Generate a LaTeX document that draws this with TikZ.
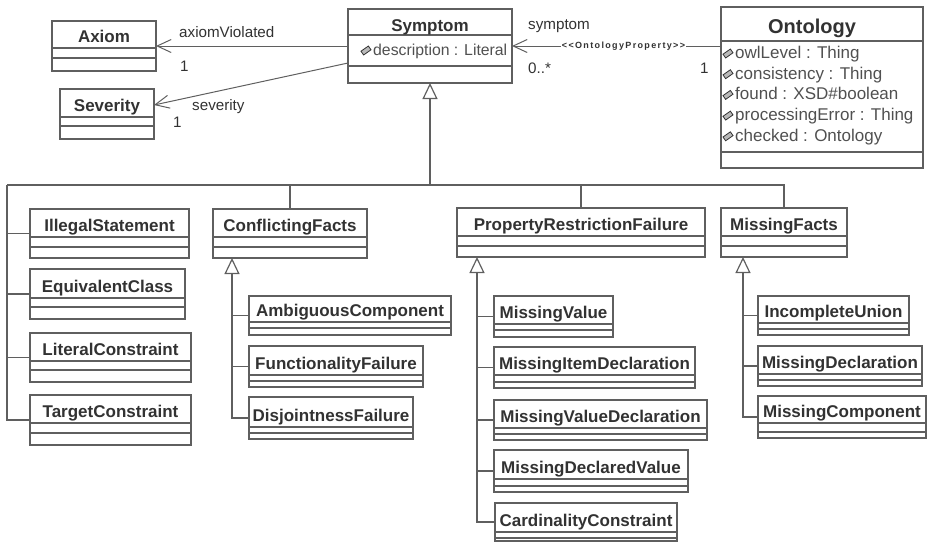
\documentclass[tikz,border=0pt]{standalone}
\usepackage{fontspec}
\setmainfont{Liberation Sans}
\newfontfamily\stf{Liberation Sans}[LetterSpace=15]
\usetikzlibrary{arrows.meta}
\definecolor{ln}{RGB}{95,95,95}
\definecolor{tx}{RGB}{50,50,50}
\definecolor{tx2}{RGB}{80,80,80}
\tikzset{
 classbox/.style={draw=ln, line width=1.2pt, inner sep=0pt, outer sep=0pt, rectangle},
 divider/.style={draw=ln, line width=1.1pt},
 nametext/.style={font=\fontsize{17}{18}\selectfont\bfseries, text=tx, inner sep=0pt, anchor=base},
 ontitle/.style={font=\fontsize{20}{22}\selectfont\bfseries, text=tx, inner sep=0pt, anchor=base},
 attrtext/.style={font=\fontsize{15.8}{17}\selectfont, text=tx2, inner sep=0pt, anchor=base west},
 ontattr/.style={font=\fontsize{17}{19}\selectfont, text=tx2, inner sep=0pt, anchor=base west},
 lbl/.style={font=\fontsize{15.2}{17}\selectfont, text=tx, inner sep=0pt, anchor=base west},
 stereo/.style={font=\stf\fontsize{9}{10}\selectfont\bfseries, text=tx, inner sep=1pt, fill=white},
 assoc/.style={draw=ln, line width=1pt, -{Straight Barb[length=14pt,width=13pt,line width=1pt]}},
 genarrow/.style={draw=ln, line width=1.3pt, -{Triangle[open,length=16pt,width=15pt,line width=1.2pt]}},
 tree/.style={draw=ln, line width=1.3pt},
 icon/.style={draw=tx, fill=gray!55, line width=0.8pt},
}
% #1 name/title, #2 x1, #3 y1, #4 x2, #5 y2, #6 first divider, #7 second divider
\newcommand\umlclass[7]{%
 \node[classbox, minimum width={(#4-#2)*1pt}, minimum height={(#5-#3)*1pt}] (#1) at ({(#2+#4)/2},{(#3+#5)/2}) {};
 \draw[divider] (#2,#6) -- (#4,#6) (#2,#7) -- (#4,#7);
 \node[nametext] (#1-name) at ({(#2+#4)/2},{#6-6}) {#1};
}
\newcommand\attricon[2]{%
 \draw[icon, rotate around={35:(#1,#2)}] ({#1-4.5},{#2-2.3}) rectangle ({#1+4.5},{#2+2.3});
}
\begin{document}
\begin{tikzpicture}[x=1pt,y=-1pt]
\useasboundingbox (0,0) rectangle (931,542);

% top classes
\node[classbox, minimum width=164pt, minimum height=74pt] (Symptom) at (430,46) {};
\draw[divider] (348,35) -- (512,35) (348,66) -- (512,66);
\node[nametext] (Symptom-name) at (430,31.5) {Symptom};
\attricon{366}{50.5}
\node[attrtext] (Symptom-a1) at (373,55) {description : Literal};

\umlclass{Axiom}{52}{21}{156}{71}{48}{58}
\umlclass{Severity}{60}{89}{154}{139}{117}{126}

\node[classbox, minimum width=202pt, minimum height=161pt] (Ontology) at (822,87.5) {};
\draw[divider] (721,41) -- (923,41) (721,152) -- (923,152);
\node[ontitle] (Ontology-name) at (812,33) {Ontology};
\attricon{728}{53.5}
\node[ontattr] (Ontology-a1) at (735,58.5) {owlLevel : Thing};
\attricon{728}{74.2}
\node[ontattr] (Ontology-a2) at (735,79.2) {consistency : Thing};
\attricon{728}{94.9}
\node[ontattr] (Ontology-a3) at (735,99.9) {found : XSD\#boolean};
\attricon{728}{115.6}
\node[ontattr] (Ontology-a4) at (735,120.6) {processingError : Thing};
\attricon{728}{136.3}
\node[ontattr] (Ontology-a5) at (735,141.3) {checked : Ontology};

% associations
\draw[assoc] (Symptom.west) -- (Axiom.east);
\node[lbl] (l-axv) at (179,37) {axiomViolated};
\node[lbl] (l-axm) at (180,71) {1};
\draw[assoc] ([yshift=-17pt]Symptom.west) -- ([yshift=9pt]Severity.east);
\node[lbl] (l-sev) at (192,110) {severity};
\node[lbl] (l-sevm) at (173,127) {1};
\draw[assoc] (Symptom.east -| Ontology.west) -- (Symptom.east);
\node[stereo] (l-st) at (623.5,46) {<<OntologyProperty>>};
\node[lbl] (l-sym) at (528,29) {symptom};
\node[lbl] (l-symm) at (528,73) {0..*};
\node[lbl] (l-onm) at (700,73) {1};

% subclasses of Symptom
\umlclass{IllegalStatement}{30}{209}{189}{258}{237}{247}
\umlclass{EquivalentClass}{30}{269}{185}{319}{298}{307}
\umlclass{LiteralConstraint}{30}{333}{191}{382}{361}{370}
\umlclass{TargetConstraint}{30}{395}{191}{445}{423}{433}
\umlclass{ConflictingFacts}{213}{209}{367}{258}{237}{247}
\umlclass{PropertyRestrictionFailure}{457}{208}{705}{257}{236}{246}
\umlclass{MissingFacts}{721}{208}{847}{257}{236}{246}

% subclasses of ConflictingFacts
\umlclass{AmbiguousComponent}{249}{296}{451}{335}{322}{328}
\umlclass{FunctionalityFailure}{249}{346}{423}{387}{375}{381}
\umlclass{DisjointnessFailure}{249}{397}{413}{439}{427}{433}

% subclasses of PropertyRestrictionFailure
\umlclass{MissingValue}{494}{296}{613}{337}{324}{330}
\umlclass{MissingItemDeclaration}{494}{347}{695}{388}{375}{382}
\umlclass{MissingValueDeclaration}{494}{400}{707}{440}{428}{434}
\umlclass{MissingDeclaredValue}{494}{450}{688}{492}{479}{486}
\umlclass{CardinalityConstraint}{495}{503}{677}{541}{532}{538}

% subclasses of MissingFacts
\umlclass{IncompleteUnion}{758}{296}{909}{335}{323}{329}
\umlclass{MissingDeclaration}{758}{346}{922}{386}{374}{380}
\umlclass{MissingComponent}{758}{396}{926}{438}{423}{432}

% generalization tree of Symptom
\coordinate (trunkL) at (7,185);
\draw[genarrow] (Symptom.south |- trunkL) -- (Symptom.south);
\draw[tree] (trunkL) -- (MissingFacts.north |- trunkL) -- (MissingFacts.north);
\draw[tree] (ConflictingFacts.north |- trunkL) -- (ConflictingFacts.north);
\draw[tree] (PropertyRestrictionFailure.north |- trunkL) -- (PropertyRestrictionFailure.north);
\draw[tree] (trunkL) |- (TargetConstraint.west);
\draw[tree] (IllegalStatement.west -| trunkL) -- (IllegalStatement.west);
\draw[tree] (EquivalentClass.west -| trunkL) -- (EquivalentClass.west);
\draw[tree] (LiteralConstraint.west -| trunkL) -- (LiteralConstraint.west);

% generalization tree of ConflictingFacts
\coordinate (cfT) at ([xshift=19pt]ConflictingFacts.south west);
\draw[genarrow] (DisjointnessFailure.west) -| (cfT);
\draw[tree] (AmbiguousComponent.west -| cfT) -- (AmbiguousComponent.west);
\draw[tree] (FunctionalityFailure.west -| cfT) -- (FunctionalityFailure.west);

% generalization tree of PropertyRestrictionFailure
\coordinate (prT) at ([xshift=20pt]PropertyRestrictionFailure.south west);
\draw[genarrow] (CardinalityConstraint.west) -| (prT);
\draw[tree] (MissingValue.west -| prT) -- (MissingValue.west);
\draw[tree] (MissingItemDeclaration.west -| prT) -- (MissingItemDeclaration.west);
\draw[tree] (MissingValueDeclaration.west -| prT) -- (MissingValueDeclaration.west);
\draw[tree] (MissingDeclaredValue.west -| prT) -- (MissingDeclaredValue.west);

% generalization tree of MissingFacts
\coordinate (mfT) at ([xshift=22pt]MissingFacts.south west);
\draw[genarrow] (MissingComponent.west) -| (mfT);
\draw[tree] (IncompleteUnion.west -| mfT) -- (IncompleteUnion.west);
\draw[tree] (MissingDeclaration.west -| mfT) -- (MissingDeclaration.west);
\end{tikzpicture}
\end{document}
